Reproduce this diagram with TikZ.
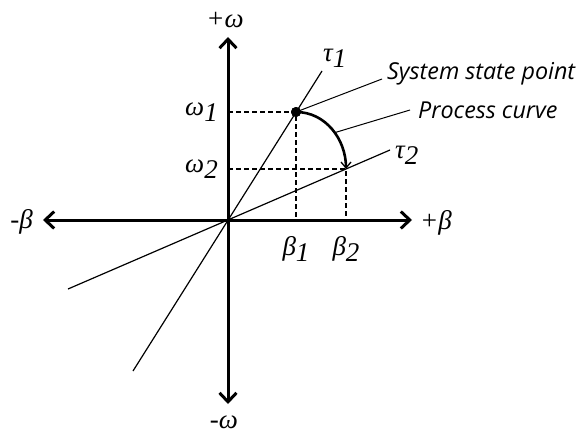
\documentclass[tikz,border=0pt]{standalone}
\usepackage{fontspec}
\setmainfont{Liberation Serif}
\newfontfamily\notefont{Open Sans}
\usetikzlibrary{arrows.meta, positioning}
\newcommand{\idx}[1]{\raisebox{-6pt}{\fontsize{27}{30}\selectfont #1}}
\tikzset{
	axis/.style={line width=3pt, {Straight Barb[length=9pt, width=17pt]}-{Straight Barb[length=9pt, width=17pt]}},
	ray/.style={line width=1.2pt},
	guide/.style={line width=1.2pt, dash pattern=on 5pt off 3pt},
	leader/.style={line width=1pt},
	process/.style={line width=2.6pt, -{Straight Barb[length=6pt, width=10pt, line width=1.3pt]}},
	dot/.style={circle, fill=black, minimum size=10pt, inner sep=0pt},
	greek/.style={inner sep=0pt, font=\fontsize{27}{30}\selectfont\itshape},
	note/.style={inner sep=0pt, font=\notefont\fontsize{23.3}{27}\selectfont\itshape},
}
\begin{document}
\begin{tikzpicture}[x=1pt, y=1pt]
	\useasboundingbox (-228,-214) rectangle (349,220);
	\coordinate (O) at (0,0);
	\coordinate (bl) at (-185,0);
	\coordinate (br) at (184,0);
	\coordinate (wt) at (0,183);
	\coordinate (wb) at (0,-184);
	\coordinate (t1a) at (-95,-151);
	\coordinate (t1b) at (94,149);
	\coordinate (t2a) at (-160,-69);
	\coordinate (t2b) at (162,70);
	\coordinate (Q) at (118,51);
	\node[dot] (P) at (68,108) {};
	\coordinate (w1) at (P.center -| O);
	\coordinate (b1) at (P.center |- O);
	\coordinate (w2) at (Q -| O);
	\coordinate (b2) at (Q |- O);
	\coordinate (sp) at (154,141);
	\coordinate (pc) at (182,110);
	\draw[guide] (w1) -- (P.center) -- (b1);
	\draw[guide] (w2) -- (Q) -- (b2);
	\draw[ray] (t1a) -- (t1b);
	\draw[ray] (t2a) -- (t2b);
	\draw[axis] (bl) -- (br);
	\draw[axis] (wb) -- (wt);
	\draw[process] (P.center) to[out=0, in=90] coordinate[pos=0.55] (pm) (Q);
	\node[dot] at (P) {};
	\draw[leader] (P.center) -- (sp);
	\draw[leader] (pm) -- (pc);
	\node[greek, right=8pt of br, yshift=-3pt] (bpos) {+β};
	\node[greek, left=10pt of bl, yshift=-2pt] (bneg) {-β};
	\node[greek, above=9pt of wt, xshift=-3pt] (wpos) {+ω};
	\node[greek, below=12pt of wb, xshift=-4pt] (wneg) {-ω};
	\node[greek, left=10pt of w1] (w1l) {ω\idx{1}};
	\node[greek, left=10pt of w2] (w2l) {ω\idx{2}};
	\node[greek, below=16pt of b1] (b1l) {β\idx{1}};
	\node[greek, below=16pt of b2] (b2l) {β\idx{2}};
	\node[greek, above right=3pt and 1pt of t1b] (t1l) {τ\idx{1}};
	\node[greek, right=5pt of t2b, yshift=-5pt] (t2l) {τ\idx{2}};
	\node[note, anchor=base west] (spl) at ([shift={(5pt,-1pt)}]sp) {System state point};
	\node[note, anchor=base west] (pcl) at ([shift={(8pt,-8pt)}]pc) {Process curve};
\end{tikzpicture}
\end{document}
